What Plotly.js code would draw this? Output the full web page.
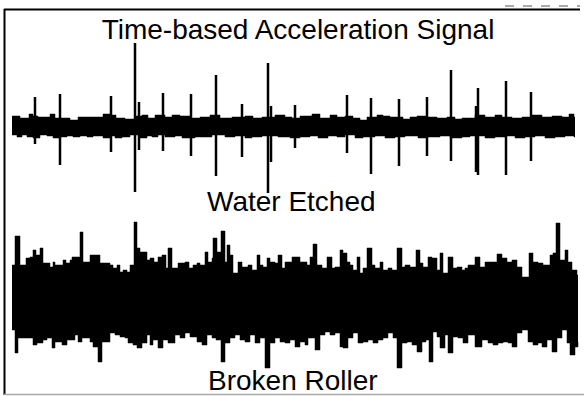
<!DOCTYPE html>
<html>
<head>
<meta charset="utf-8">
<script src="https://cdn.plot.ly/plotly-3.0.1.min.js"></script>
<style>html,body{margin:0;padding:0;background:#fff;}#chart{width:584px;height:396px;}</style>
</head>
<body>
<div id="chart"></div>
<script>
// ---------- Data (time in samples, amplitude in arbitrary units) ----------
const titleText = "Time-based Acceleration Signal";
const seriesNames = ["Water Etched", "Broken Roller"];

// Water Etched: noise band envelope
const weTopT   = [0,3,8,13,17,21,26,31,38,43,50,58,66,74,83,91,98,104,113,123,130,136,143,153,160,168,178,188,198,208,220,233,241,250,263,273,280,288,300,308,318,325,333,341,348,355,365,371,378,391,398,405,415,425,435,443,450,463,473,483,490,500,510,520,530,540,550,557,562,563];
const weTopA   = [11,11,9,9,13,11,10,10,13,9,9,7,10,10,10,13,12,9,8,11,12,9,12,10,12,11,9,10,12,9,10,11,9,10,12,10,9,11,13,9,12,10,11,9,7,10,12,11,10,8,10,11,10,9,10,8,9,12,10,12,10,9,10,12,10,11,10,13,10,10];
const weBotT   = [0,5,10,15,21,28,35,41,48,55,61,68,75,81,91,98,103,110,118,128,135,140,146,153,163,170,183,191,200,213,223,233,240,250,266,278,288,298,306,316,325,333,343,351,363,373,383,393,406,416,428,438,450,458,473,483,493,503,513,523,533,543,553,562,563];
const weBotA   = [-8,-10,-8,-10,-11,-8,-9,-11,-10,-9,-10,-9,-10,-9,-11,-9,-11,-10,-8,-11,-9,-10,-8,-10,-9,-11,-10,-10,-8,-10,-9,-11,-10,-9,-10,-11,-10,-9,-11,-9,-10,-8,-11,-10,-9,-11,-10,-9,-11,-10,-9,-11,-10,-9,-11,-10,-9,-11,-10,-9,-11,-10,-9,-10,-10];
// Water Etched: impulse spikes
const weSpikeT   = [23,48,99,123,127,151,179,204,230,256,259,283,335,359,387,415,439,464,466,494,519];
const weSpikeTop = [30,33,31,84,25,34,33,52,23,64,21,22,32,29,28,30,57,21,39,46,35];
const weSpikeBot = [-17,-38,-25,-65,-23,-24,-29,-49,-30,-66,-35,-21,-26,-47,-39,-29,-34,-45,-48,-48,-34];

// Broken Roller: envelope (upper / lower)
const brTopT = [0,3,8,11,14,18,21,24,28,31,35,38,41,43,48,51,54,58,60,63,66,68,71,75,78,81,85,88,91,95,98,101,105,108,111,115,118,122,125,128,131,135,138,142,146,150,154,156,160,163,166,170,173,177,181,185,188,193,196,200,201,205,209,213,215,218,221,226,230,233,236,240,245,248,251,255,258,263,266,270,273,276,280,283,288,295,298,301,305,310,315,320,323,328,331,335,338,341,345,348,351,355,360,363,368,371,376,380,385,390,393,398,404,408,411,416,420,425,428,431,436,441,445,450,453,456,463,468,473,476,480,485,490,495,500,505,510,513,517,521,526,531,538,541,544,548,553,556,560,565,566];
const brTopA = [35,64,35,35,42,43,50,45,52,37,37,33,38,35,35,40,37,40,43,43,43,68,38,38,45,45,45,37,37,37,35,32,35,28,30,28,35,78,52,48,48,40,42,38,43,45,32,52,32,32,37,37,38,32,35,37,35,48,38,42,62,48,69,38,55,45,27,38,33,33,35,30,45,35,33,42,38,37,45,32,38,38,43,43,38,35,43,56,35,32,43,32,33,50,47,38,35,30,43,27,32,52,35,32,38,30,32,30,52,33,35,33,50,37,33,43,42,30,47,27,43,32,33,30,32,35,43,33,38,38,38,46,42,38,40,33,23,23,47,38,37,35,45,47,77,40,50,38,30,25,25];
const brBotT = [0,3,6,10,15,21,25,28,31,35,40,43,46,50,55,60,63,66,70,75,78,81,86,90,95,98,103,108,113,116,121,125,130,135,138,141,146,151,156,163,168,173,178,185,190,195,200,204,209,213,218,223,228,233,238,243,248,253,258,263,268,273,278,283,288,293,296,303,308,313,318,323,328,331,336,341,346,351,356,361,366,371,376,381,385,390,395,400,405,410,414,417,421,425,428,433,436,441,446,451,456,463,470,476,481,486,491,496,500,505,510,516,521,526,530,535,540,545,550,555,558,563,566];
const brBotA = [-30,-53,-38,-38,-38,-45,-43,-43,-40,-38,-48,-42,-42,-45,-40,-40,-35,-42,-38,-38,-42,-47,-62,-42,-42,-33,-35,-37,-38,-43,-45,-48,-43,-35,-45,-40,-48,-40,-43,-35,-38,-33,-37,-42,-45,-35,-38,-40,-62,-43,-38,-35,-40,-42,-35,-43,-38,-68,-43,-38,-42,-43,-40,-47,-42,-45,-38,-50,-35,-32,-35,-33,-47,-48,-38,-33,-43,-42,-40,-43,-40,-38,-33,-38,-68,-43,-42,-45,-52,-42,-40,-62,-32,-37,-48,-35,-53,-37,-38,-43,-35,-47,-40,-43,-45,-43,-42,-43,-47,-33,-30,-42,-45,-43,-47,-40,-52,-38,-30,-43,-55,-47,-42];

// ---------- Build traces ----------
const black = "#000000";
function envTrace(t, a, yaxis) {
  return {x: t, y: a, type: "scatter", mode: "lines", line: {shape: "hv", color: black, width: 0.5},
          fill: "tozeroy", fillcolor: black, yaxis: yaxis, hoverinfo: "skip", showlegend: false};
}
function spikeTrace(t, top, bot, yaxis) {
  const xs = [], ys = [];
  for (let i = 0; i < t.length; i++) { xs.push(t[i], t[i], null); ys.push(bot[i], top[i], null); }
  return {x: xs, y: ys, type: "scatter", mode: "lines", line: {color: black, width: 2.5},
          yaxis: yaxis, hoverinfo: "skip", showlegend: false, connectgaps: false};
}

const traces = [
  envTrace(weTopT, weTopA, "y"),
  envTrace(weBotT, weBotA, "y"),
  spikeTrace(weSpikeT, weSpikeTop, weSpikeBot, "y"),
  envTrace(brTopT, brTopA, "y2"),
  envTrace(brBotT, brBotA, "y2")
];

const W = 584, H = 396;
const font = {family: "Liberation Sans, Arial, sans-serif", size: 28, color: black};
const hidden = {visible: false, showgrid: false, zeroline: false, fixedrange: true};
const layout = {
  width: W, height: H,
  margin: {l: 0, r: 0, t: 0, b: 0},
  paper_bgcolor: "#ffffff", plot_bgcolor: "#ffffff",
  showlegend: false,
  title: {text: titleText, x: 298 / W, xanchor: "center", y: 1 - 29 / H, yanchor: "middle", yref: "container", font: font},
  xaxis: Object.assign({range: [-12, W - 12], domain: [0, 1]}, hidden),
  yaxis: Object.assign({range: [127 - H, 127], domain: [0, 1]}, hidden),
  yaxis2: Object.assign({range: [300 - H, 300], overlaying: "y"}, hidden),
  annotations: [
    {text: seriesNames[0], xref: "paper", yref: "paper", x: 291.5 / W, y: 1 - 202 / H, xanchor: "center", yanchor: "middle",
     showarrow: false, font: font},
    {text: seriesNames[1], xref: "paper", yref: "paper", x: 293 / W, y: 1 - 380.5 / H, xanchor: "center", yanchor: "middle",
     showarrow: false, font: font}
  ],
  shapes: [
    {type: "line", xref: "paper", yref: "paper", x0: 4.5 / W, x1: 4.5 / W, y0: 1 - 9 / H, y1: 1 - 395 / H, line: {color: black, width: 2}},
    {type: "line", xref: "paper", yref: "paper", x0: 4 / W, x1: 580 / W, y0: 1 - 9.5 / H, y1: 1 - 9.5 / H, line: {color: black, width: 2}},
    {type: "line", xref: "paper", yref: "paper", x0: 4 / W, x1: 1, y0: 1 - 394.5 / H, y1: 1 - 394.5 / H, line: {color: "#a8a8a8", width: 1.5}},
    {type: "line", xref: "paper", yref: "paper", x0: 505 / W, x1: 580 / W, y0: 1 - 6 / H, y1: 1 - 6 / H, line: {color: "#555555", width: 1, dash: "dash"}}
  ]
};

Plotly.newPlot("chart", traces, layout, {staticPlot: true, displayModeBar: false});
</script>
</body>
</html>
